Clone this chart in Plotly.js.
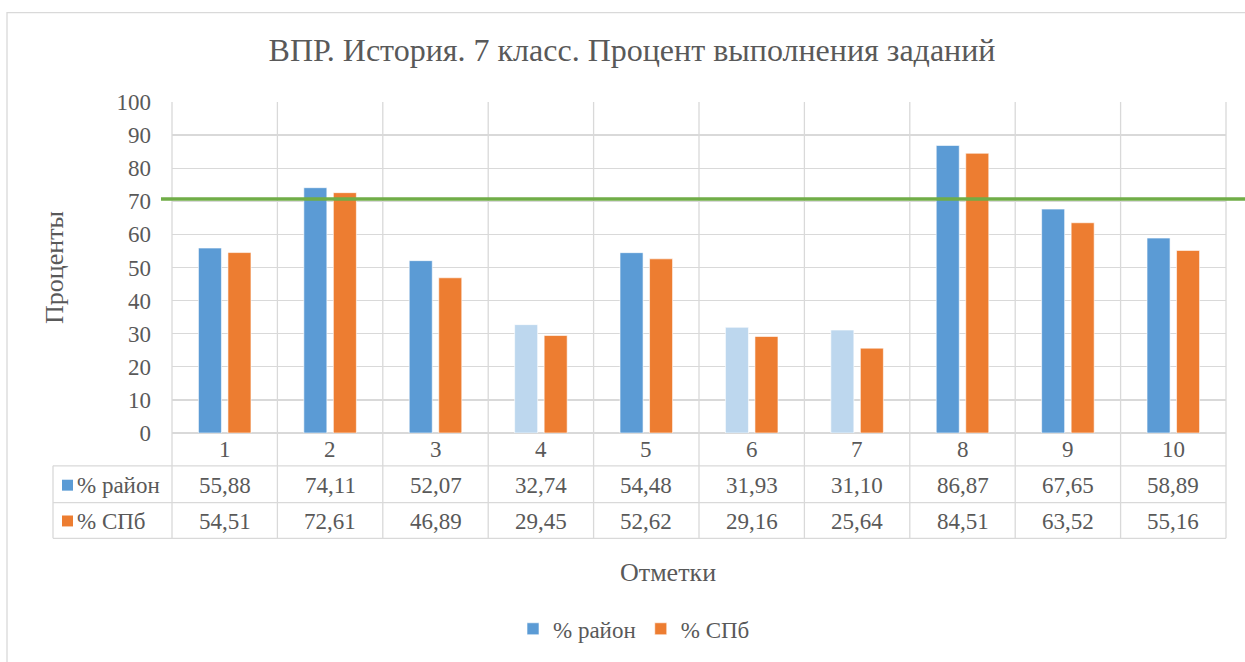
<!DOCTYPE html>
<html>
<head>
<meta charset="utf-8">
<script src="https://cdn.plot.ly/plotly-3.0.1.min.js"></script>
<style>html,body{margin:0;padding:0;background:#fff;}#chart{width:1245px;height:662px;}</style>
</head>
<body>
<div id="chart"></div>
<script>
const categories = ['1','2','3','4','5','6','7','8','9','10'];
const rayon = [55.88, 74.11, 52.07, 32.74, 54.48, 31.93, 31.10, 86.87, 67.65, 58.89];
const spb = [54.51, 72.61, 46.89, 29.45, 52.62, 29.16, 25.64, 84.51, 63.52, 55.16];
const seriesNames = ['% район', '% СПб'];
const lowCategories = ['4','6','7'];
const threshold = 70.7;

const W = 1245, H = 662;
const L = 172, R = 1226, T = 102, B = 435;
const px = x => (x - L) / (R - L);
const py = y => (B - y) / (B - T);
const FONT = 'Liberation Serif';
const TXT = '#595959';
const GRID = '#d9d9d9';
const BLUE = '#5B9BD5', LIGHT = '#BDD7EE', ORANGE = '#ED7D31';
const fmt = v => v.toFixed(2).replace('.', ',');

const traces = [
  {type:'bar', name: seriesNames[0], x: categories, y: rayon,
   marker:{color: categories.map(c => lowCategories.includes(c) ? LIGHT : BLUE), line:{color:'rgba(255,255,255,0.6)', width:1}},
   hoverinfo:'y'},
  {type:'bar', name: seriesNames[1], x: categories, y: spb,
   marker:{color: ORANGE, line:{color:'rgba(255,255,255,0.6)', width:1}}, hoverinfo:'y'}
];

const shapes = [];
const annotations = [];
const N = categories.length;
// outer frame
shapes.push({type:'rect', xref:'paper', yref:'paper', x0:px(7), x1:px(1262), y0:py(680), y1:py(12), line:{color:GRID, width:1.3}, layer:'below'});
// vertical category boundaries through table
for (let k = 0; k <= N; k++) {
  shapes.push({type:'line', xref:'paper', yref:'paper', x0:k/N, x1:k/N, y0:1, y1:py(541), line:{color:GRID, width:1.3}, layer:'below'});
}
// table horizontal lines
[468, 505, 541].forEach(y => {
  shapes.push({type:'line', xref:'paper', yref:'paper', x0:px(53), x1:1, y0:py(y), y1:py(y), line:{color:GRID, width:1.3}, layer:'below'});
});
shapes.push({type:'line', xref:'paper', yref:'paper', x0:px(53), x1:px(53), y0:py(468), y1:py(541), line:{color:GRID, width:1.3}});
// legend keys in table
[[487, BLUE],[523, ORANGE]].forEach(([y, c]) => {
  shapes.push({type:'rect', xref:'paper', yref:'paper', x0:px(62), x1:px(73), y0:py(y+6), y1:py(y-5), fillcolor:c, line:{width:0}});
});
// threshold line
shapes.push({type:'line', xref:'paper', yref:'y', x0:px(161), x1:px(1250), y0:threshold, y1:threshold, line:{color:'#70AD47', width:3.5}});

const tf = {family:FONT, size:23, color:TXT};
categories.forEach((c, i) => {
  annotations.push({xref:'x', yref:'paper', x:i, y:py(452), text:c, showarrow:false, font:tf, xanchor:'center', yanchor:'middle'});
  annotations.push({xref:'x', yref:'paper', x:i, y:py(488), text:fmt(rayon[i]), showarrow:false, font:tf, xanchor:'center', yanchor:'middle'});
  annotations.push({xref:'x', yref:'paper', x:i, y:py(524), text:fmt(spb[i]), showarrow:false, font:tf, xanchor:'center', yanchor:'middle'});
});
annotations.push({xref:'paper', yref:'paper', x:px(75), y:py(488), text:seriesNames[0], showarrow:false, font:tf, xanchor:'left', yanchor:'middle'});
annotations.push({xref:'paper', yref:'paper', x:px(75), y:py(524), text:seriesNames[1], showarrow:false, font:tf, xanchor:'left', yanchor:'middle'});
// x axis title
annotations.push({xref:'paper', yref:'paper', x:px(668), y:py(575), text:'Отметки', showarrow:false, font:{family:FONT, size:26, color:TXT}, xanchor:'center', yanchor:'middle'});

const layout = {
  width: W, height: H,
  margin:{l:L, r:W-R, t:T, b:H-B, pad:0},
  paper_bgcolor:'#fff', plot_bgcolor:'#fff',
  title:{text:'ВПР. История. 7 класс. Процент выполнения заданий', font:{family:FONT, size:32, color:TXT}, xref:'container', x:632/W, xanchor:'center', yref:'container', y:1-50/H, yanchor:'middle'},
  barmode:'group', bargap:0.44, bargroupgap:0.22,
  xaxis:{type:'category', range:[-0.5, N-0.5], showticklabels:false, ticks:'', showgrid:false, zeroline:false, showline:false, fixedrange:true, automargin:false},
  yaxis:{range:[0,100], dtick:10, tick0:0, showgrid:true, gridcolor:GRID, gridwidth:1.3, zeroline:true, zerolinecolor:GRID, zerolinewidth:1.3, showline:false,
         ticks:'', ticklabelstandoff:20, tickfont:{family:FONT, size:23, color:TXT},
         title:{text:'Проценты', font:{family:FONT, size:26, color:TXT}, standoff:45}, automargin:false, fixedrange:true},
  showlegend:true,
  legend:{orientation:'h', x:px(634), xanchor:'center', y:py(632), yanchor:'middle', font:{family:FONT, size:23, color:TXT}, itemwidth:30, bgcolor:'rgba(0,0,0,0)'},
  shapes: shapes,
  annotations: annotations
};

Plotly.newPlot('chart', traces, layout, {displayModeBar:false, staticPlot:true});
</script>
</body>
</html>
